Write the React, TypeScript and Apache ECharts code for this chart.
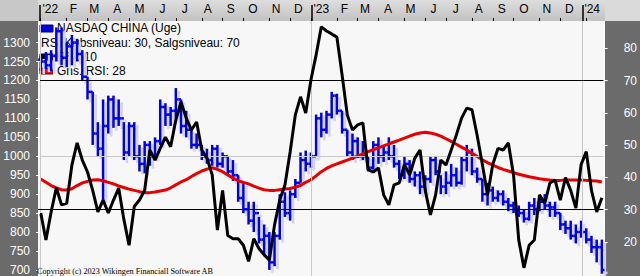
import React, { useEffect, useRef } from 'react';
import * as echarts from 'echarts';

const weeks = [
  "2022-01-02","2022-01-09","2022-01-16","2022-01-23","2022-01-30","2022-02-06","2022-02-13","2022-02-20","2022-02-27","2022-03-06",
  "2022-03-13","2022-03-20","2022-03-27","2022-04-03","2022-04-10","2022-04-17","2022-04-24","2022-05-01","2022-05-08","2022-05-15",
  "2022-05-22","2022-05-29","2022-06-05","2022-06-12","2022-06-19","2022-06-26","2022-07-03","2022-07-10","2022-07-17","2022-07-24",
  "2022-07-31","2022-08-07","2022-08-14","2022-08-21","2022-08-28","2022-09-04","2022-09-11","2022-09-18","2022-09-25","2022-10-02",
  "2022-10-09","2022-10-16","2022-10-23","2022-10-30","2022-11-06","2022-11-13","2022-11-20","2022-11-27","2022-12-04","2022-12-11",
  "2022-12-18","2022-12-25","2023-01-01","2023-01-08","2023-01-15","2023-01-22","2023-01-29","2023-02-05","2023-02-12","2023-02-19",
  "2023-02-26","2023-03-05","2023-03-12","2023-03-19","2023-03-26","2023-04-02","2023-04-09","2023-04-16","2023-04-23","2023-04-30",
  "2023-05-07","2023-05-14","2023-05-21","2023-05-28","2023-06-04","2023-06-11","2023-06-18","2023-06-25","2023-07-02","2023-07-09",
  "2023-07-16","2023-07-23","2023-07-30","2023-08-06","2023-08-13","2023-08-20","2023-08-27","2023-09-03","2023-09-10","2023-09-17",
  "2023-09-24","2023-10-01","2023-10-08","2023-10-15","2023-10-22","2023-10-29","2023-11-05","2023-11-12","2023-11-19","2023-11-26",
  "2023-12-03","2023-12-10","2023-12-17","2023-12-24","2023-12-31","2024-01-07","2024-01-14","2024-01-21","2024-01-28"
];

const opens = [
  1255,1250,1240,1265,1330,1260,1290,1300,1270,1210,
  1170,1060,1020,1080,1150,1100,1100,1010,1080,1000,
  980,1030,1000,1040,1130,1110,1120,1150,1080,1070,
  1030,1030,1000,990,1020,980,1000,960,950,890,
  860,830,850,780,790,720,790,880,850,900,
  930,990,980,1000,1100,1070,1110,1160,1120,1070,
  1010,1040,1000,1000,970,1030,1000,1010,1000,980,
  950,980,940,950,920,940,990,960,920,930,
  950,930,990,1010,960,940,900,910,890,900,
  880,870,860,850,835,870,860,880,870,865,
  850,820,810,790,800,800,780,760,760
];
const highs = [
  1265,1275,1280,1340,1340,1300,1320,1310,1280,1210,
  1170,1090,1150,1160,1160,1150,1090,1090,1090,1030,
  1040,1040,1050,1150,1140,1130,1180,1150,1120,1070,
  1060,1030,1020,1030,1030,1010,1000,990,950,930,
  880,880,840,820,800,800,900,905,910,940,
  1010,1015,1010,1110,1115,1120,1170,1165,1120,1070,
  1060,1050,1040,1000,1040,1050,1030,1050,1030,990,
  1000,990,960,960,950,1000,1000,950,960,980,
  970,1000,1030,1020,970,940,930,920,910,910,
  890,880,870,860,880,890,890,900,880,880,
  850,830,830,820,830,810,790,780,780
];
const lows = [
  1225,1230,1225,1250,1240,1235,1240,1250,1200,1150,
  1030,1000,885,1060,1075,1080,990,1000,990,960,
  955,975,995,1030,1080,1080,1100,1060,1050,1020,
  1020,990,980,975,970,970,950,935,880,850,
  820,800,770,740,700,710,780,840,830,890,
  930,960,970,1000,1050,1060,1100,1110,1060,1000,
  990,995,990,960,965,980,985,990,970,940,
  940,930,920,900,905,930,950,900,900,920,
  920,925,960,950,930,880,870,880,880,870,
  855,850,840,825,830,845,855,860,840,840,
  805,795,780,770,785,770,745,720,690
];
const closes = [
  1250,1240,1265,1330,1260,1290,1300,1270,1210,1170,
  1060,1020,1080,1150,1100,1100,1010,1080,1000,980,
  1030,1000,1040,1130,1110,1120,1150,1080,1070,1030,
  1030,1000,990,1020,980,1000,960,950,890,860,
  830,850,780,790,720,790,880,850,900,930,
  990,980,1000,1100,1070,1110,1160,1120,1070,1010,
  1040,1000,1000,970,1030,1000,1010,1000,980,950,
  980,940,950,920,940,990,960,920,930,950,
  930,990,1010,960,940,900,910,890,900,880,
  870,860,850,835,870,860,880,870,865,850,
  820,810,790,800,800,780,760,760,700
];
const rsi = [
  29,20.6,29.3,36.8,31.5,32,43.9,50.7,45.4,41.7,
  36,29.3,33,29,33,36.7,27,19,31,33,
  36,48.5,45.4,49,52.5,49.5,57.8,63.4,58.4,54.7,
  57.2,48.5,46,40.8,23.7,36,22,21,21,19,
  14,21,18,16,14.4,25.3,33,37.7,47.9,59.4,
  65,60,70.2,78,86.7,85.4,84.5,83.5,71.8,59.4,
  54.7,56.3,56.9,42.4,41.7,43,34.6,31.5,37.7,38.3,
  44,40.8,46,48.5,36,28.4,34.6,45.4,43.9,48.5,
  53.2,58.4,61.5,61,53,44,34.6,44,49,48.5,
  50.7,40.8,20.6,12,19,20.6,34.6,32,38.3,39.2,
  33,40,36,30.5,44,48,36,29.3,33.7
];
const avgRsi = [
  39.5,38.5,37.5,36.8,36.2,36.1,36.5,37.5,38.3,38.8,
  39.2,39.3,39,38.5,38,37.4,36.9,36.4,36,35.6,
  35.3,35.3,35.5,35.8,36.1,36.8,37.7,38.6,39.3,40.3,
  41.2,42,42.6,43,42.5,41.8,40.8,39.8,39,38.5,
  38,37.3,36.7,36.2,36,36,36.2,36.4,36.6,37,
  37.5,38.5,39.3,40.5,41.8,42.8,43.6,44.2,44.8,45.4,
  46,46.7,47.3,48,48.6,49.2,49.8,50.4,51,51.6,
  52.2,52.8,53.4,53.8,54,53.8,53.4,52.8,52,51.2,
  50.3,49.4,48.5,47.5,46.5,45.5,44.6,43.8,43.1,42.5,
  42,41.5,41,40.6,40.2,39.9,39.6,39.4,39.2,39.1,
  39.1,39.2,39.2,39.2,39.2,39.1,39,38.9,38.6
];

const priceTicks = [700, 750, 800, 850, 900, 950, 1000, 1050, 1100, 1150, 1200, 1250, 1300];
const rsiTicks = [20, 30, 40, 50, 60, 70, 80];
const rsiLevels = [30, 70];
const priceGrid = [1000];
const monthLabels = ["'22","F","M","A","M","J","J","A","S","O","N","D","'23","F","M","A","M","J","J","A","S","O","N","D","'24"];
const legendLines = ["NASDAQ CHINA (Uge)", "RSI Købsniveau: 30, Salgsniveau: 70", "RSI: 10", "Gns. RSI: 28"];
const copyright = "Copyright (c) 2023 Wikingen Financiall Software AB";

const DAY = 86400000;
const BASE = Date.UTC(2022, 0, 1);
const dayOf = (s: string) => Math.round((Date.parse(s) - BASE) / DAY);
const X_MIN = -2.7;
const X_MAX = 759.4;

const FONT = "'Liberation Sans', Arial, sans-serif";

function App() {
  const ref = useRef<HTMLDivElement>(null);
  useEffect(() => {
    if (!ref.current) return;
    const chart = echarts.init(ref.current, null, { renderer: 'svg' });
    const days = weeks.map(dayOf);
    const ohlc = days.map((d, i) => [d, opens[i], highs[i], lows[i], closes[i]]);
    const rsiData = days.map((d, i) => [d, rsi[i]]);
    const avgData = days.map((d, i) => [d, avgRsi[i]]);

    const midDays: number[] = [];
    const labelMap: Record<number, string> = {};
    monthLabels.forEach((lab, k) => {
      const d = Math.round((Date.UTC(2022, k, 15) - BASE) / DAY);
      midDays.push(d);
      labelMap[d] = lab;
    });
    const tickDays: number[] = [];
    const seen: Record<string, boolean> = {};
    weeks.forEach((w, i) => {
      const key = w.slice(0, 7);
      if (!seen[key]) { seen[key] = true; tickDays.push(days[i]); }
    });
    const yearDays = [2022, 2023, 2024].map((y) => Math.round((Date.UTC(y, 0, 1) - BASE) / DAY));

    const makeOHLC = (dx: number, dy: number, color: string, width: number) => (params: any, api: any) => {
      const d = api.value(0);
      const o = api.coord([d, api.value(1)]);
      const h = api.coord([d, api.value(2)]);
      const l = api.coord([d, api.value(3)]);
      const c = api.coord([d, api.value(4)]);
      const half = api.size([7, 0])[0] / 2;
      const x = h[0] + dx;
      const style = { stroke: color, lineWidth: width };
      return {
        type: 'group',
        children: [
          { type: 'line', shape: { x1: x, y1: h[1] + dy, x2: x, y2: l[1] + dy }, style },
          { type: 'line', shape: { x1: x - half, y1: o[1] + dy, x2: x, y2: o[1] + dy }, style },
          { type: 'line', shape: { x1: x, y1: c[1] + dy, x2: x + half, y2: c[1] + dy }, style },
        ],
      };
    };

    const legendY = [28, 43, 57, 71];
    const legendX = [57, 41, 57, 57];

    chart.setOption({
      animation: false,
      grid: [
        { left: 38, right: 35, top: 21, bottom: 0, show: true, backgroundColor: '#f7f7f7', borderWidth: 0 },
        { left: 38, right: 35, top: 0, height: 21, show: false },
      ],
      xAxis: [
        {
          type: 'value', gridIndex: 0, min: X_MIN, max: X_MAX, position: 'top', z: 10,
          axisLine: { show: false }, splitLine: { show: false },
          axisTick: { show: true, customValues: tickDays, length: 3, lineStyle: { color: '#000' } },
          axisLabel: {
            customValues: midDays, color: '#000', fontSize: 12, fontFamily: FONT, margin: 6,
            formatter: (v: number) => labelMap[Math.round(v)] ?? '',
          },
        },
        {
          type: 'value', gridIndex: 1, min: X_MIN, max: X_MAX, position: 'bottom', z: 10,
          axisLine: { show: false }, splitLine: { show: false },
          axisTick: { show: true, customValues: yearDays, inside: true, length: 16, lineStyle: { color: '#000', width: 1.5 } },
          axisLabel: { show: false },
        },
      ],
      yAxis: [
        {
          type: 'value', gridIndex: 0, min: 684, max: 1357, position: 'left', z: 10,
          axisLine: { show: false }, splitLine: { show: false },
          axisTick: { show: true, customValues: priceTicks, length: 4, lineStyle: { color: '#fff' } },
          axisLabel: {
            customValues: priceTicks, color: '#fff', fontSize: 12, fontFamily: FONT, margin: 8,
            formatter: (v: number) => String(Math.round(v)),
          },
        },
        {
          type: 'value', gridIndex: 0, min: 9.46, max: 88.5, position: 'right', z: 10,
          axisLine: { show: false }, splitLine: { show: false },
          axisTick: { show: true, customValues: rsiTicks, length: 4, lineStyle: { color: '#fff' } },
          axisLabel: {
            customValues: rsiTicks, color: '#fff', fontSize: 12, fontFamily: FONT, margin: 20,
            formatter: (v: number) => String(Math.round(v)),
          },
        },
        { type: 'value', gridIndex: 1, min: 0, max: 1, show: false },
      ],
      graphic: [
        { type: 'rect', z: 0, shape: { x: 0, y: 0, width: 38, height: 21 }, style: { fill: '#c8c8c8' } },
        {
          type: 'rect', z: 0, shape: { x: 38, y: 0, width: 567, height: 21 },
          style: { fill: new echarts.graphic.LinearGradient(0, 0, 0, 1, [{ offset: 0, color: '#dedede' }, { offset: 1, color: '#c2c2c2' }]) },
        },
        { type: 'rect', z: 0, shape: { x: 605, y: 0, width: 35, height: 21 }, style: { fill: '#dadada' } },
        { type: 'rect', z: 0, shape: { x: 0, y: 21, width: 38, height: 255 }, style: { fill: '#6b6b6b' } },
        { type: 'rect', z: 0, shape: { x: 605, y: 21, width: 35, height: 255 }, style: { fill: '#6b6b6b' } },
        { type: 'rect', z: 1, shape: { x: 40, y: 25, width: 13, height: 7 }, style: { fill: '#0000e0', stroke: '#000080', lineWidth: 1 } },
        { type: 'rect', z: 1, shape: { x: 40, y: 54, width: 13, height: 6 }, style: { fill: '#000', stroke: '#000', lineWidth: 1 } },
        { type: 'rect', z: 1, shape: { x: 40, y: 68, width: 13, height: 6 }, style: { fill: '#e01010', stroke: '#600000', lineWidth: 1 } },
        ...legendLines.map((t, i) => ({
          type: 'text', z: 1, x: legendX[i], y: legendY[i],
          style: { text: t, fill: '#000', fontSize: 12, fontFamily: FONT, verticalAlign: 'middle' },
        })),
        {
          type: 'text', z: 50, x: 37, y: 271,
          style: { text: copyright, fill: '#000', fontSize: 8.2, fontFamily: "'Liberation Serif', 'Times New Roman', serif", verticalAlign: 'middle' },
        },
      ],
      series: [
        {
          type: 'custom', name: 'shadow', xAxisIndex: 0, yAxisIndex: 0, z: 2,
          renderItem: makeOHLC(3, 3, '#d2d3ee', 2.5),
          encode: { x: 0, y: [1, 2, 3, 4] },
          data: ohlc,
          silent: true,
          markLine: {
            silent: true, symbol: ['none', 'none'], label: { show: false },
            lineStyle: { color: '#c8c8c8', width: 1, type: 'solid' },
            data: [...yearDays.map((d) => ({ xAxis: d })), ...priceGrid.map((p) => ({ yAxis: p }))],
          },
        },
        {
          type: 'custom', name: 'NASDAQ CHINA', xAxisIndex: 0, yAxisIndex: 0, z: 3,
          renderItem: makeOHLC(0, 0, '#0000e6', 2.5),
          encode: { x: 0, y: [1, 2, 3, 4] },
          data: ohlc,
          silent: true,
        },
        {
          type: 'line', name: 'Gns. RSI', xAxisIndex: 0, yAxisIndex: 1, z: 4,
          data: avgData, showSymbol: false, symbol: 'none',
          lineStyle: { color: '#e80000', width: 3 },
        },
        {
          type: 'line', name: 'RSI', xAxisIndex: 0, yAxisIndex: 1, z: 5,
          data: rsiData, showSymbol: false, symbol: 'none',
          lineStyle: { color: '#000', width: 3 },
          markLine: {
            silent: true, symbol: ['none', 'none'], label: { show: false },
            lineStyle: { color: '#000', width: 1, type: 'solid' },
            data: rsiLevels.map((v) => ({ yAxis: v })),
          },
        },
      ],
    });
    return () => chart.dispose();
  }, []);
  return <div ref={ref} style={{ position: 'absolute', left: 0, top: 0, width: 640, height: 276 }} />;
}

export default App;
